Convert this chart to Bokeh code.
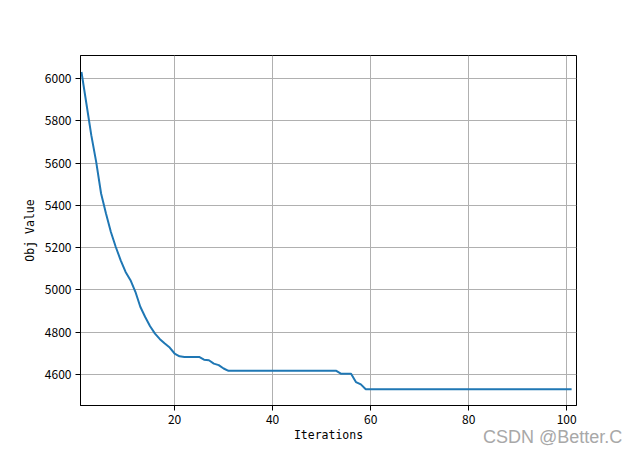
from bokeh.plotting import figure
from bokeh.layouts import column
from bokeh.models import Range1d, FixedTicker, Div
from bokeh.embed import file_html
from bokeh.resources import INLINE

iterations = list(range(1, 102))
obj_head = [6031, 5882, 5732, 5606, 5456, 5361, 5274, 5203, 5140, 5085,
            5046, 4991, 4920, 4872, 4828, 4793, 4767, 4746, 4727, 4699,
            4686, 4683, 4683, 4683, 4683, 4670, 4667, 4651, 4644, 4628]
obj_mid = [4617] * 23          # iterations 31..53
obj_drop = [4603, 4603, 4603, 4564, 4553]   # iterations 54..58
obj_tail = [4530] * 43         # iterations 59..101
obj_values = obj_head + obj_mid + obj_drop + obj_tail

x_ticks = [20, 40, 60, 80, 100]
y_ticks = [4600, 4800, 5000, 5200, 5400, 5600, 5800, 6000]
watermark = "CSDN @Better.C"

FONT = "Noto Sans CJK SC"
LABEL_FONT = "DejaVu Sans Mono"

p = figure(width=632, height=447, output_backend="svg", toolbar_location=None,
           x_range=Range1d(0.8, 102.0), y_range=Range1d(4453, 6109),
           min_border_left=80, min_border_right=56, min_border_top=55, min_border_bottom=42)
p.background_fill_color = "white"
p.border_fill_color = "white"
p.outline_line_color = "black"
p.outline_line_width = 1

p.line(iterations, obj_values, line_color="#1f77b4", line_width=2)

for ax in (p.xaxis[0], p.yaxis[0]):
    ax.axis_line_color = "black"
    ax.axis_line_width = 1
    ax.major_tick_out = 5
    ax.major_tick_in = 0
    ax.minor_tick_out = 0
    ax.minor_tick_in = 0
    ax.major_label_text_font = FONT
    ax.major_label_text_font_size = "12px"
    ax.major_label_text_color = "black"
    ax.axis_label_text_font = LABEL_FONT
    ax.axis_label_text_font_size = "11.5px"
    ax.axis_label_text_font_style = "normal"
    ax.axis_label_text_color = "black"
    ax.major_label_standoff = 4

p.xaxis[0].ticker = FixedTicker(ticks=x_ticks)
p.yaxis[0].ticker = FixedTicker(ticks=y_ticks)
p.xaxis[0].axis_label = "Iterations"
p.yaxis[0].axis_label = "Obj Value"
p.xaxis[0].axis_label_standoff = 1
p.yaxis[0].axis_label_standoff = 5

p.grid.grid_line_color = "#b0b0b0"
p.grid.grid_line_width = 1

wm = Div(text=watermark, width=150, height=21, margin=(-20, 0, 0, 483),
         styles={"color": "#a8a8a8", "font-family": "Liberation Sans",
                 "font-size": "18px", "line-height": "21px", "white-space": "nowrap"})

layout = column(p, wm, spacing=0)
open("out.html", "w").write(file_html(layout, INLINE))
